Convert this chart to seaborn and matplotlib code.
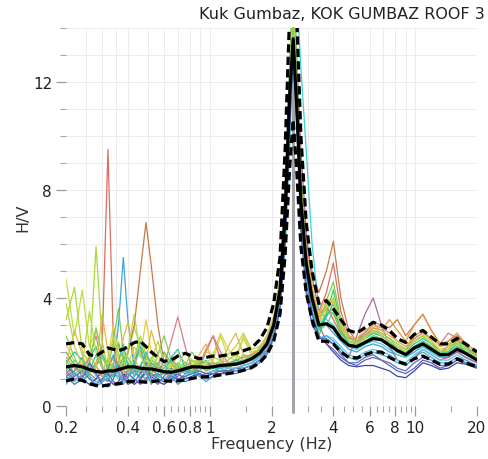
import numpy as np
import pandas as pd
import matplotlib
matplotlib.use("Agg")
import matplotlib.pyplot as plt
from matplotlib.ticker import FixedLocator, FixedFormatter, MultipleLocator
import seaborn as sns

# Sampling frequencies (Hz)
freq = [0.20, 0.22, 0.24, 0.26, 0.28, 0.30, 0.32, 0.34, 0.36, 0.38,
        0.40, 0.43, 0.46, 0.49, 0.52, 0.56, 0.60, 0.65, 0.70, 0.76,
        0.82, 0.89, 0.96, 1.04, 1.13, 1.23, 1.34, 1.46, 1.60, 1.75,
        1.90, 2.05, 2.20, 2.33, 2.45, 2.55, 2.65, 2.78, 2.95, 3.15,
        3.40, 3.70, 4.00, 4.35, 4.75, 5.20, 5.70, 6.25, 6.85, 7.50,
        8.20, 9.00, 9.90, 10.9, 12.0, 13.2, 14.5, 16.0, 17.6, 20.0]

# H/V of the individual time windows
win_01 = [4.7, 2.6, 4.3, 2.2, 2.8, 2.0, 1.5, 1.8, 2.4, 1.6,
          1.9, 2.9, 2.2, 1.5, 1.8, 1.3, 1.2, 1.6, 1.4, 1.3,
          1.6, 1.8, 1.5, 1.7, 2.6, 1.8, 1.7, 2.5, 1.9, 2.1,
          2.6, 3.3, 4.6, 7.6, 12.5, 15.5, 12.0, 8.0, 5.6, 4.1,
          3.2, 3.6, 3.2, 2.6, 2.3, 2.4, 2.6, 2.8, 2.6, 2.4,
          2.2, 2.0, 2.4, 2.6, 2.3, 2.0, 2.1, 2.3, 2.1, 1.8]
win_02 = [1.2, 1.5, 1.1, 1.3, 1.6, 2.2, 9.5, 2.4, 1.2, 1.0,
          1.3, 1.6, 1.2, 1.0, 1.4, 1.1, 1.0, 1.2, 1.5, 1.3,
          1.2, 1.4, 2.0, 2.6, 1.7, 1.4, 1.6, 1.7, 1.8, 2.0,
          2.4, 3.0, 4.2, 7.0, 11.8, 14.5, 11.5, 7.8, 6.2, 4.8,
          3.5, 4.2, 5.3, 3.5, 2.6, 2.3, 2.5, 2.8, 2.6, 2.4,
          2.1, 2.0, 2.6, 2.8, 2.4, 2.0, 2.2, 2.6, 2.2, 1.8]
win_03 = [1.1, 1.3, 1.6, 1.2, 1.0, 1.3, 1.7, 1.4, 1.2, 1.5,
          2.0, 3.0, 5.0, 6.8, 5.2, 3.0, 1.6, 1.2, 1.4, 1.2,
          1.3, 1.5, 1.4, 1.6, 1.5, 1.4, 1.7, 1.8, 1.9, 2.1,
          2.5, 3.2, 4.5, 7.5, 12.0, 14.8, 12.0, 8.2, 6.0, 5.0,
          4.2, 5.0, 6.1, 4.0, 2.8, 2.4, 2.7, 3.1, 3.0, 2.9,
          3.2, 2.6, 3.0, 3.4, 2.8, 2.3, 2.4, 2.6, 2.3, 2.0]
win_04 = [1.3, 1.0, 0.9, 1.2, 1.5, 1.1, 0.9, 1.4, 3.0, 5.5,
          3.2, 1.4, 1.0, 1.2, 0.9, 1.1, 1.3, 1.0, 0.9, 1.2,
          1.4, 1.2, 1.1, 1.3, 1.4, 1.3, 1.4, 1.5, 1.6, 1.9,
          2.2, 2.9, 4.0, 6.8, 11.0, 14.2, 12.5, 8.5, 5.6, 4.0,
          3.0, 3.0, 2.7, 2.4, 2.1, 2.0, 2.2, 2.3, 2.2, 2.0,
          1.9, 1.8, 2.0, 2.2, 2.0, 1.8, 1.8, 2.0, 1.8, 1.6]
win_05 = [2.0, 1.5, 1.2, 1.8, 2.2, 1.4, 1.1, 1.6, 2.3, 1.8,
          1.3, 1.6, 2.4, 1.7, 1.2, 1.5, 2.0, 1.6, 1.3, 1.4,
          1.7, 1.5, 1.3, 1.4, 1.6, 1.5, 1.5, 1.6, 1.7, 2.0,
          2.3, 3.0, 4.4, 7.4, 12.0, 16.0, 13.0, 8.0, 5.2, 3.8,
          2.6, 3.4, 4.3, 3.0, 2.2, 2.1, 2.3, 2.5, 2.5, 2.3,
          2.0, 1.9, 2.2, 2.4, 2.2, 1.9, 2.0, 2.3, 2.0, 1.7]
win_06 = [1.0, 1.2, 1.4, 1.1, 0.9, 1.0, 1.3, 1.2, 1.0, 1.1,
          1.4, 1.2, 1.1, 1.0, 1.2, 1.1, 1.0, 1.1, 1.2, 1.3,
          1.2, 1.1, 1.2, 1.3, 1.3, 1.4, 1.4, 1.5, 1.6, 1.8,
          2.1, 2.6, 3.6, 5.8, 9.5, 13.5, 15.5, 12.5, 9.5, 6.0,
          3.6, 3.2, 3.0, 2.6, 2.2, 2.1, 2.3, 2.4, 2.3, 2.1,
          1.9, 1.8, 2.1, 2.2, 2.0, 1.8, 1.9, 2.1, 1.9, 1.7]
win_07 = [1.5, 1.2, 1.0, 0.8, 1.0, 1.3, 1.0, 0.8, 0.9, 1.2,
          1.0, 0.8, 1.0, 1.3, 1.1, 0.9, 0.8, 1.0, 1.2, 1.0,
          1.1, 1.2, 1.1, 1.2, 1.2, 1.3, 1.4, 1.4, 1.5, 1.7,
          2.0, 2.6, 3.8, 6.5, 10.5, 13.0, 10.5, 6.5, 4.2, 3.0,
          2.6, 2.3, 2.0, 1.7, 1.5, 1.45, 1.5, 1.5, 1.4, 1.3,
          1.1, 1.05, 1.3, 1.6, 1.5, 1.35, 1.4, 1.6, 1.55, 1.4]
win_08 = [1.2, 1.0, 1.1, 1.4, 1.2, 0.9, 1.0, 1.2, 1.1, 0.9,
          1.1, 1.3, 1.0, 0.9, 1.1, 1.2, 1.0, 0.9, 1.1, 1.4,
          1.3, 1.1, 1.2, 1.3, 1.3, 1.3, 1.4, 1.5, 1.6, 1.8,
          2.1, 2.7, 3.8, 6.6, 11.0, 14.5, 12.8, 9.5, 6.5, 4.4,
          3.0, 2.4, 2.3, 2.0, 1.8, 2.6, 3.4, 4.0, 3.0, 2.2,
          1.7, 1.5, 1.8, 2.1, 1.9, 1.7, 1.8, 2.0, 1.8, 1.6]
win_09 = [2.3, 1.6, 1.3, 1.9, 1.5, 1.2, 1.8, 3.0, 1.9, 1.3,
          1.5, 2.2, 1.8, 3.2, 2.0, 1.4, 1.2, 1.5, 1.9, 1.6,
          1.4, 1.6, 2.0, 1.9, 2.7, 2.1, 1.8, 2.6, 2.0, 2.1,
          2.5, 3.2, 4.5, 7.2, 11.8, 15.0, 12.2, 8.4, 5.8, 4.3,
          3.2, 3.8, 3.6, 2.7, 2.4, 2.4, 2.6, 2.9, 2.7, 2.5,
          2.2, 2.1, 2.5, 2.7, 2.4, 2.1, 2.2, 2.4, 2.2, 1.9]
win_10 = [1.6, 2.0, 1.7, 1.3, 1.5, 1.9, 1.5, 1.2, 1.4, 1.8,
          1.6, 1.3, 1.5, 1.9, 1.6, 1.3, 1.4, 1.7, 1.5, 1.3,
          1.5, 1.6, 1.4, 1.5, 1.5, 1.6, 1.6, 1.7, 1.8, 2.0,
          2.3, 3.0, 4.3, 7.2, 11.5, 13.8, 11.2, 7.5, 5.3, 3.9,
          2.8, 3.3, 3.8, 2.8, 2.3, 2.2, 2.4, 2.6, 2.5, 2.3,
          2.0, 1.9, 2.2, 2.4, 2.2, 1.9, 1.9, 2.2, 2.0, 1.7]
win_11 = [3.2, 4.4, 2.0, 1.6, 5.9, 2.4, 1.3, 1.6, 2.2, 1.7,
          1.4, 1.8, 2.6, 1.9, 1.4, 1.6, 1.9, 1.5, 1.4, 1.6,
          1.5, 1.7, 1.6, 1.5, 1.6, 1.7, 1.9, 1.7, 1.9, 2.1,
          2.4, 3.1, 4.5, 7.4, 12.2, 15.2, 12.4, 8.2, 5.6, 4.0,
          2.9, 3.5, 4.0, 3.0, 2.4, 2.3, 2.5, 2.7, 2.6, 2.4,
          2.2, 2.0, 2.4, 2.6, 2.3, 2.0, 2.1, 2.4, 2.1, 1.8]
win_12 = [1.8, 1.4, 1.2, 1.6, 1.3, 1.1, 1.4, 1.8, 1.5, 1.2,
          1.3, 1.5, 1.3, 1.2, 1.4, 1.6, 1.3, 1.1, 1.3, 1.5,
          1.4, 1.3, 1.5, 1.6, 1.5, 1.6, 1.7, 1.8, 1.9, 2.1,
          2.4, 3.0, 4.4, 7.0, 11.5, 14.0, 11.5, 7.8, 5.5, 4.2,
          3.3, 3.6, 3.4, 2.8, 2.4, 2.3, 2.6, 2.9, 2.8, 3.2,
          2.8, 2.4, 3.0, 3.4, 2.8, 2.3, 2.4, 2.7, 2.3, 2.0]
win_13 = [1.1, 0.9, 1.2, 1.5, 1.1, 0.9, 1.1, 1.5, 1.3, 1.0,
          0.9, 1.1, 1.4, 1.2, 0.9, 1.0, 1.3, 1.2, 1.0, 1.1,
          1.2, 1.3, 1.2, 1.3, 1.3, 1.4, 1.4, 1.5, 1.6, 1.8,
          2.0, 2.7, 3.9, 6.6, 11.2, 14.6, 12.0, 7.8, 5.0, 3.6,
          2.5, 2.6, 2.5, 2.2, 1.9, 1.8, 2.0, 2.1, 2.0, 1.9,
          1.7, 1.6, 1.9, 2.1, 1.9, 1.7, 1.7, 1.9, 1.7, 1.5]
win_14 = [1.4, 1.1, 1.3, 1.8, 2.6, 1.5, 1.2, 1.4, 1.6, 1.3,
          1.2, 1.4, 1.2, 1.3, 1.6, 1.4, 1.5, 2.4, 3.3, 2.2,
          1.4, 1.5, 2.1, 2.6, 2.0, 1.6, 1.5, 1.6, 1.7, 1.9,
          2.2, 2.8, 4.0, 6.8, 11.2, 14.0, 11.0, 7.4, 5.3, 4.0,
          3.4, 3.7, 3.2, 2.7, 2.5, 2.5, 2.7, 3.0, 2.9, 2.7,
          2.4, 2.2, 2.5, 2.7, 2.5, 2.3, 2.7, 2.5, 2.2, 1.9]
win_15 = [1.3, 1.7, 1.4, 1.2, 1.5, 1.8, 1.4, 1.1, 1.3, 1.6,
          1.8, 1.4, 1.2, 1.4, 1.7, 1.5, 1.2, 1.3, 1.6, 1.4,
          1.3, 1.4, 1.4, 1.5, 1.5, 1.5, 1.6, 1.6, 1.7, 2.0,
          2.3, 2.9, 4.2, 7.0, 11.8, 15.5, 12.6, 8.0, 5.4, 4.0,
          2.8, 3.0, 3.5, 2.7, 2.3, 2.2, 2.4, 2.6, 2.5, 2.3,
          2.1, 1.95, 2.2, 2.4, 2.2, 1.95, 2.0, 2.3, 2.1, 1.8]
win_16 = [0.9, 1.1, 1.3, 1.0, 0.8, 1.0, 1.2, 0.9, 0.8, 1.0,
          1.2, 1.0, 0.8, 1.0, 1.2, 1.0, 0.9, 1.1, 1.0, 1.1,
          1.2, 1.3, 1.2, 1.2, 1.3, 1.3, 1.3, 1.4, 1.5, 1.7,
          2.0, 2.5, 3.6, 6.2, 10.5, 13.8, 11.5, 7.0, 4.3, 3.4,
          2.6, 2.3, 2.1, 1.8, 1.6, 1.5, 1.7, 1.8, 1.7, 1.5,
          1.3, 1.2, 1.4, 1.7, 1.6, 1.4, 1.5, 1.7, 1.6, 1.45]
win_17 = [2.6, 1.8, 1.2, 1.5, 2.9, 1.9, 1.3, 2.4, 3.6, 2.0,
          1.2, 1.5, 2.1, 1.4, 1.1, 1.9, 2.6, 1.7, 1.2, 1.5,
          2.0, 1.6, 1.3, 1.5, 1.7, 1.4, 1.6, 1.9, 1.8, 2.1,
          2.4, 3.2, 4.6, 7.8, 12.6, 15.8, 12.8, 8.4, 5.8, 4.2,
          3.0, 3.9, 4.6, 3.2, 2.5, 2.4, 2.6, 2.8, 2.7, 2.5,
          2.3, 2.1, 2.4, 2.6, 2.3, 2.0, 2.1, 2.4, 2.2, 1.85]
win_18 = [0.8, 1.3, 1.8, 1.1, 0.7, 0.9, 1.4, 1.9, 1.2, 0.8,
          1.0, 1.6, 2.2, 1.3, 0.8, 1.2, 1.7, 1.1, 0.8, 1.0,
          1.5, 1.1, 0.9, 1.1, 1.2, 1.2, 1.3, 1.4, 1.5, 1.7,
          2.0, 2.7, 3.9, 6.6, 10.8, 13.6, 11.2, 7.2, 4.6, 3.4,
          2.5, 2.6, 2.4, 2.1, 1.8, 1.7, 1.9, 2.0, 1.9, 1.8,
          1.6, 1.5, 1.8, 2.0, 1.8, 1.6, 1.6, 1.8, 1.7, 1.5]
win_19 = [1.5, 2.8, 1.9, 1.2, 1.4, 3.4, 2.0, 1.2, 1.5, 2.5,
          3.1, 1.8, 1.3, 1.6, 2.8, 1.9, 1.3, 1.4, 1.9, 1.6,
          1.3, 1.9, 2.3, 1.6, 1.4, 2.2, 2.7, 1.9, 1.7, 2.2,
          2.6, 3.3, 4.7, 7.4, 11.6, 14.2, 11.8, 8.2, 5.9, 4.4,
          3.4, 4.0, 3.8, 3.0, 2.6, 2.5, 2.8, 3.0, 2.8, 2.6,
          2.4, 2.2, 2.6, 2.8, 2.5, 2.2, 2.3, 2.5, 2.3, 2.0]
win_20 = [1.7, 1.2, 0.9, 1.3, 1.9, 1.4, 1.0, 1.1, 1.7, 2.3,
          1.5, 1.1, 1.4, 2.0, 1.5, 1.1, 1.2, 1.8, 2.1, 1.4,
          1.2, 1.5, 1.7, 1.4, 1.4, 1.5, 1.7, 1.6, 1.8, 2.0,
          2.3, 3.0, 4.4, 7.3, 11.8, 14.8, 12.0, 7.9, 5.4, 4.0,
          2.9, 3.4, 3.6, 2.9, 2.4, 2.3, 2.5, 2.7, 2.6, 2.4,
          2.1, 2.0, 2.3, 2.5, 2.3, 2.0, 2.0, 2.3, 2.1, 1.75]
win_21 = [1.1, 0.8, 1.0, 1.6, 1.2, 0.8, 0.7, 1.0, 1.5, 1.1,
          0.8, 0.9, 1.2, 1.6, 1.0, 0.8, 1.1, 1.4, 1.0, 0.9,
          1.0, 1.2, 1.0, 1.1, 1.2, 1.2, 1.2, 1.3, 1.4, 1.6,
          1.9, 2.5, 3.6, 6.0, 10.2, 13.2, 11.0, 7.4, 4.9, 3.5,
          2.5, 2.5, 2.3, 1.9, 1.6, 1.6, 1.8, 1.9, 1.7, 1.6,
          1.4, 1.3, 1.6, 1.8, 1.7, 1.5, 1.5, 1.7, 1.6, 1.45]
win_22 = [3.8, 2.2, 1.5, 3.5, 2.0, 1.4, 1.6, 2.6, 1.7, 1.3,
          2.1, 3.4, 1.9, 1.4, 1.7, 2.4, 1.6, 1.3, 1.5, 2.0,
          1.7, 1.5, 1.6, 1.8, 1.7, 1.9, 2.2, 2.7, 2.1, 2.2,
          2.5, 3.1, 4.5, 7.3, 12.0, 15.0, 12.2, 8.0, 5.5, 4.1,
          3.1, 3.7, 3.9, 2.9, 2.4, 2.3, 2.5, 2.8, 2.6, 2.4,
          2.2, 2.0, 2.4, 2.6, 2.3, 2.0, 2.1, 2.3, 2.1, 1.8]

windows = [win_01, win_02, win_03, win_04, win_05, win_06, win_07, win_08,
           win_09, win_10, win_11, win_12, win_13, win_14, win_15, win_16,
           win_17, win_18, win_19, win_20, win_21, win_22]
window_colors = ["#c3dc3a", "#d8705f", "#c47a48", "#3ea2dc", "#44c957",
                 "#38d4d4", "#3448a8", "#a86a9e", "#e3cf44", "#2db89c",
                 "#a8d83a", "#e6943c", "#5ec4ea", "#d67f8a", "#5ad47c",
                 "#6660b8", "#7cd05a", "#4aa8c8", "#e0b84a", "#31c4b0",
                 "#5570c8", "#bcd448"]

# Average H/V curve and its standard deviation bounds
hv_mean = [1.45, 1.5, 1.45, 1.35, 1.28, 1.25, 1.3, 1.3, 1.35, 1.4,
           1.45, 1.45, 1.4, 1.38, 1.37, 1.32, 1.27, 1.25, 1.3, 1.38,
           1.45, 1.45, 1.42, 1.45, 1.5, 1.52, 1.55, 1.62, 1.75, 1.95,
           2.3, 3.0, 4.3, 7.2, 11.5, 13.6, 11.2, 7.6, 5.3, 4.0,
           3.0, 3.05, 2.9, 2.5, 2.25, 2.2, 2.35, 2.5, 2.45, 2.25,
           2.05, 1.9, 2.15, 2.3, 2.1, 1.9, 1.9, 2.1, 1.95, 1.7]
hv_upper = [2.3, 2.35, 2.3, 1.9, 1.85, 2.0, 2.15, 2.1, 2.05, 2.1,
            2.2, 2.35, 2.4, 2.2, 2.0, 1.8, 1.65, 1.7, 1.85, 1.95,
            1.85, 1.75, 1.8, 1.85, 1.85, 1.9, 1.95, 2.05, 2.15, 2.45,
            2.9, 3.8, 5.5, 9.5, 14.5, 17.0, 14.5, 10.0, 6.8, 5.0,
            3.8, 3.9, 3.6, 3.2, 2.8, 2.7, 2.9, 3.1, 3.0, 2.8,
            2.5, 2.35, 2.65, 2.8, 2.55, 2.3, 2.3, 2.5, 2.3, 2.0]
hv_lower = [0.93, 1.0, 0.95, 0.82, 0.76, 0.74, 0.78, 0.8, 0.82, 0.85,
            0.9, 0.92, 0.9, 0.88, 0.9, 0.93, 0.93, 0.92, 0.93, 0.97,
            1.02, 1.07, 1.08, 1.1, 1.15, 1.2, 1.25, 1.32, 1.42, 1.6,
            1.9, 2.4, 3.4, 5.6, 8.8, 10.6, 8.8, 5.9, 4.2, 3.2,
            2.4, 2.4, 2.3, 2.0, 1.8, 1.78, 1.9, 2.0, 2.0, 1.8,
            1.65, 1.55, 1.75, 1.85, 1.7, 1.55, 1.55, 1.75, 1.6, 1.45]

peak_freq = 2.55

x_ticks = [0.2, 0.4, 0.6, 0.8, 1, 2, 4, 6, 8, 10, 20]
x_tick_labels = ["0.2", "0.4", "0.6", "0.8", "1", "2", "4", "6", "8", "10", "20"]
x_minor_ticks = [0.25, 0.3, 0.35, 0.45, 0.5, 0.55, 0.65, 0.7, 0.75, 0.85,
                 0.9, 0.95, 1.5, 3, 3.5, 4.5, 5, 5.5, 6.5, 7, 7.5, 8.5, 9,
                 9.5, 15]
x_grid_lines = [0.25, 0.3, 0.35, 0.5, 0.7, 0.9, 3, 5, 7, 9]

title = "Kuk Gumbaz, KOK GUMBAZ ROOF 3"

# ---------------------------------------------------------------------
sns.set_theme(style="white")
plt.rcParams["font.family"] = ["DejaVu Sans"]

frames = []
for i, vals in enumerate(windows):
    frames.append(pd.DataFrame({"freq": freq, "hv": vals, "win": f"w{i:02d}"}))
win_df = pd.concat(frames, ignore_index=True)
stat_df = pd.DataFrame({"freq": freq, "mean": hv_mean,
                        "upper": hv_upper, "lower": hv_lower})

fig = plt.figure(figsize=(4.88, 4.60), dpi=100)
ax = fig.add_axes([66 / 488, 53 / 460, 411 / 488, 378 / 460])

# light grid: every unit on H/V, labelled and a few extra frequencies
for yv in range(1, 15):
    ax.axhline(yv, color="#ebebeb", lw=0.7, zorder=0)
for xv in x_ticks[1:] + x_grid_lines:
    ax.axvline(xv, color="#ececec", lw=0.7, zorder=0)

ax.axvline(peak_freq, ymin=-0.015, ymax=1, color="#a3a3ab", lw=2.2,
           zorder=1, clip_on=False)

sns.lineplot(data=win_df, x="freq", y="hv", hue="win",
             palette=window_colors, estimator=None, sort=False,
             lw=0.9, legend=False, ax=ax, zorder=2)

dash = (0, (2.6, 1.3))
sns.lineplot(data=stat_df, x="freq", y="upper", color="black", lw=2.3,
             linestyle=dash, estimator=None, ax=ax, zorder=4)
sns.lineplot(data=stat_df, x="freq", y="lower", color="black", lw=2.3,
             linestyle=dash, estimator=None, ax=ax, zorder=4)
sns.lineplot(data=stat_df, x="freq", y="mean", color="black", lw=2.3,
             estimator=None, ax=ax, zorder=5)

ax.set_xscale("log")
ax.set_xlim(0.2, 20)
ax.set_ylim(0, 14)

ax.xaxis.set_major_locator(FixedLocator(x_ticks))
ax.xaxis.set_major_formatter(FixedFormatter(x_tick_labels))
ax.xaxis.set_minor_locator(FixedLocator(x_minor_ticks))
ax.xaxis.set_minor_formatter(FixedFormatter([]))
ax.yaxis.set_major_locator(MultipleLocator(4))
ax.yaxis.set_minor_locator(MultipleLocator(1))

for s in ax.spines.values():
    s.set_visible(False)
ax.grid(False)

ax.tick_params(axis="both", which="major", direction="out", length=7,
               width=0.9, color="#9a9a9a", labelsize=11, labelcolor="#222222",
               bottom=True, left=True, pad=3)
ax.tick_params(axis="both", which="minor", direction="out", length=4,
               width=0.8, color="#a8a8a8", bottom=True, left=True)

ax.set_xlabel("Frequency (Hz)", fontsize=11.5, color="#333333", labelpad=1)
ax.set_ylabel("H/V", fontsize=11.5, color="#333333", labelpad=2)

fig.text(0.994, 0.969, title, ha="right", va="center", fontsize=11.5,
         color="#222222")

fig.savefig("out.png", dpi=100)
